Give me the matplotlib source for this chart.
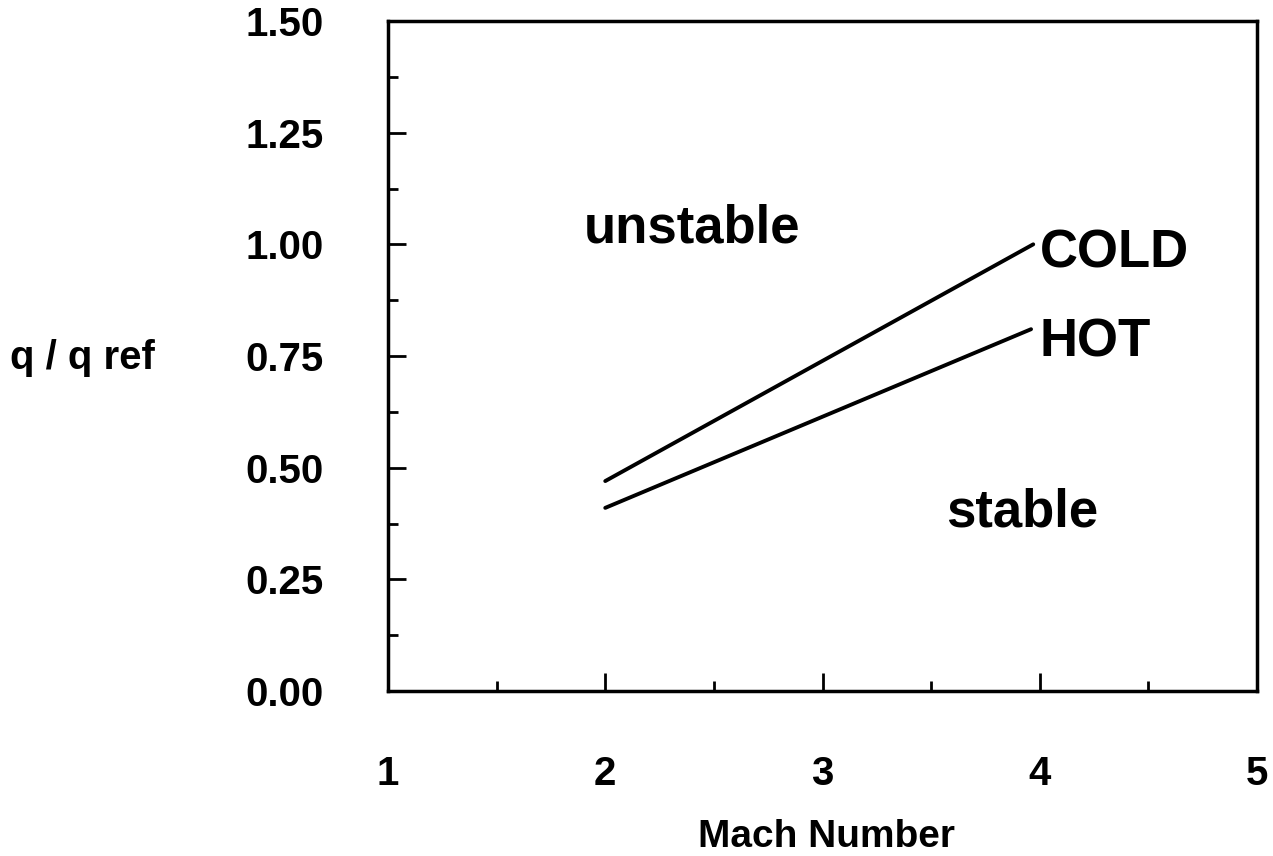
import numpy as np
import matplotlib.pyplot as plt

plt.rcParams['font.family'] = ['Liberation Sans', 'DejaVu Sans']
plt.rcParams['font.weight'] = 'bold'

# stability boundary, q/q_ref vs Mach number
mach_cold = [2.0, 3.97]
q_cold = [0.47, 1.00]
mach_hot = [2.0, 3.96]
q_hot = [0.41, 0.81]

x_ticks = [1, 2, 3, 4, 5]
y_ticks = [0.0, 0.25, 0.5, 0.75, 1.0, 1.25, 1.5]
y_labels = ['0.00', '0.25', '0.50', '0.75', '1.00', '1.25', '1.50']

fig = plt.figure(figsize=(12.73, 8.56), dpi=100)
ax = fig.add_axes([388/1273, 1 - 691/856, (1257 - 388)/1273, (691 - 21)/856])

ax.plot(mach_cold, q_cold, color='black', lw=2.8, solid_capstyle='round')
ax.plot(mach_hot, q_hot, color='black', lw=2.8, solid_capstyle='round')

ax.set_xlim(1, 5)
ax.set_ylim(0, 1.5)
ax.set_xticks(x_ticks)
ax.set_xticks([1.5, 2.5, 3.5, 4.5], minor=True)
ax.set_yticks(y_ticks)
ax.set_yticklabels(y_labels)
ax.set_yticks([0.125, 0.375, 0.625, 0.875, 1.125, 1.375], minor=True)

ax.tick_params(axis='both', which='major', direction='in', length=13, width=2,
               labelsize=29)
ax.tick_params(axis='both', which='minor', direction='in', length=7, width=2)
ax.tick_params(axis='x', which='major', pad=46)
ax.tick_params(axis='y', which='major', pad=46)
for s in ax.spines.values():
    s.set_linewidth(2.5)

ax.text(1.9, 1.035, 'unstable', fontsize=38, ha='left', va='center')
ax.text(4.0, 0.98, 'COLD', fontsize=38, ha='left', va='center')
ax.text(4.0, 0.78, 'HOT', fontsize=38, ha='left', va='center')
ax.text(3.57, 0.40, 'stable', fontsize=38, ha='left', va='center')

fig.text(10/1273, 1 - 358/856, 'q / q ref', fontsize=29, ha='left', va='center')
fig.text(827/1273, 1 - 837/856, 'Mach Number', fontsize=28, ha='center', va='center')

fig.savefig('out.png', dpi=100)
